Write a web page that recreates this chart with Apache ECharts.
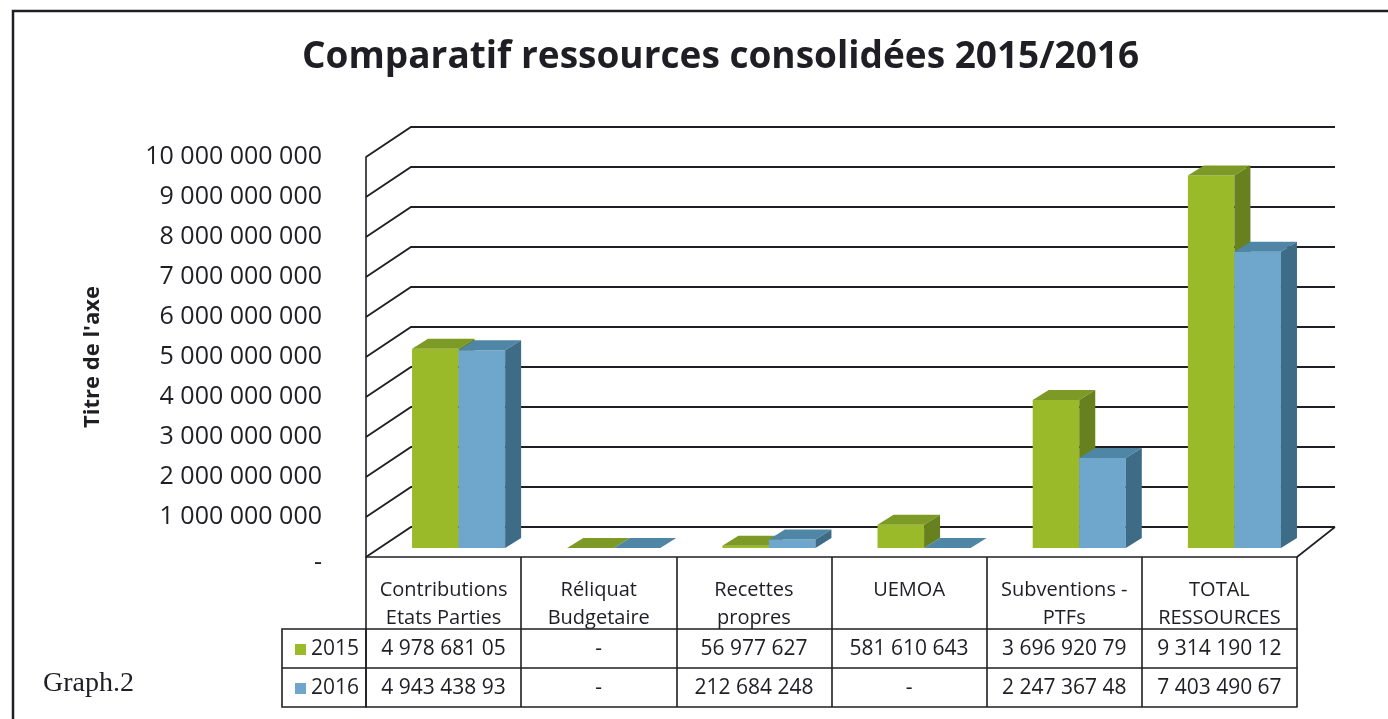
<!DOCTYPE html>
<html>
<head>
<meta charset="utf-8">
<script src="https://cdn.jsdelivr.net/npm/echarts@6/dist/echarts.min.js"></script>
<style>
  html, body { margin: 0; padding: 0; background: #fff; }
  #chart { width: 1388px; height: 719px; }
</style>
</head>
<body>
<div id="chart"></div>
<script>
// données
const categories = ['Contributions\nEtats Parties', 'Réliquat\nBudgetaire', 'Recettes\npropres', 'UEMOA\n ', 'Subventions -\nPTFs', 'TOTAL\nRESSOURCES'];
const seriesNames = ['2015', '2016'];
const values2015 = [4978681050, 0, 56977627, 581610643, 3696920790, 9314190120];
const values2016 = [4943438930, 0, 212684248, 0, 2247367480, 7403490670];
// textes du tableau tels qu'affichés (tronqués dans l'original)
const table2015 = ['4 978 681 05', '-', '56 977 627', '581 610 643', '3 696 920 79', '9 314 190 12'];
const table2016 = ['4 943 438 93', '-', '212 684 248', '-', '2 247 367 48', '7 403 490 67'];
const yTicks = [0, 1000000000, 2000000000, 3000000000, 4000000000, 5000000000, 6000000000, 7000000000, 8000000000, 9000000000, 10000000000];

const chart = echarts.init(document.getElementById('chart'));

const INK = '#1e1e24';
const FONT = 'Open Sans';
const green = { front: '#9bba2a', top: '#7c9a25', side: '#66811e' };
const blue = { front: '#6ea6cc', top: '#4f86a6', side: '#3e6b86' };

const fmt = v => v === 0 ? '{z|-}' : String(v).replace(/\B(?=(\d{3})+(?!\d))/g, ' ');

// mur du fond + plancher (perspective)
const renderWall = (params, api) => {
  const cs = params.coordSys;
  const y = api.coord([0, api.value(1)])[1];
  const children = [{
    type: 'polyline',
    shape: { points: [[cs.x, y], [cs.x + 45, y - 30], [cs.x + cs.width + 38, y - 30]] },
    style: { stroke: INK, lineWidth: 1.8, fill: null }
  }];
  if (api.value(1) === 0) {
    children.push({
      type: 'line',
      shape: { x1: cs.x + cs.width, y1: y, x2: cs.x + cs.width + 38, y2: y - 30 },
      style: { stroke: INK, lineWidth: 1.6 }
    });
  }
  return { type: 'group', children: children };
};

// barres 3D : face avant, dessus, côté
const barRenderer = (side, c) => (params, api) => {
  const idx = api.value(0);
  const top = api.coord([idx, api.value(1)]);
  const base = api.coord([idx, 0]);
  const w = api.size([1, 0])[0] * 0.3;
  const x0 = top[0] + (side === 0 ? -w : 0) + 15;
  const yTop = top[1] - 9;
  const yBase = base[1] - 9;
  const dx = 16, dy = -10;
  return {
    type: 'group',
    children: [
      { type: 'rect', shape: { x: x0, y: yTop, width: w, height: yBase - yTop }, style: { fill: c.front } },
      { type: 'polygon', shape: { points: [[x0, yTop], [x0 + dx, yTop + dy], [x0 + w + dx, yTop + dy], [x0 + w, yTop]] }, style: { fill: c.top } },
      { type: 'polygon', shape: { points: [[x0 + w, yTop], [x0 + w + dx, yTop + dy], [x0 + w + dx, yBase + dy], [x0 + w, yBase]] }, style: { fill: c.side } }
    ]
  };
};

const tableAxis = (data, offset, show) => ({
  type: 'category',
  data: data,
  position: 'bottom',
  offset: offset,
  axisLine: { show: true, lineStyle: { color: INK, width: 1.6 } },
  axisTick: { show: show, length: 39, interval: 0, lineStyle: { color: INK, width: 1.6 } },
  axisLabel: { show: show, interval: 0, margin: 9, fontFamily: FONT, fontSize: 21, lineHeight: 22, color: INK }
});

const option = {
  animation: false,
  backgroundColor: '#fff',
  title: {
    text: 'Comparatif ressources consolidées 2015/2016',
    left: 297,
    top: 34,
    textStyle: { fontFamily: FONT, fontSize: 37, fontWeight: 'bold', color: INK }
  },
  legend: {
    data: seriesNames,
    orient: 'vertical',
    left: 290,
    top: 634,
    itemWidth: 11,
    itemHeight: 11,
    itemGap: 18,
    icon: 'rect',
    selectedMode: false,
    textStyle: { fontFamily: FONT, fontSize: 21, lineHeight: 21, color: INK }
  },
  grid: { left: 366, right: 91, top: 157, bottom: 162, containLabel: false },
  xAxis: [
    {
      type: 'category',
      data: categories,
      axisLine: { show: true, lineStyle: { color: INK, width: 1.6 } },
      axisTick: { show: true, length: 72, interval: 0, lineStyle: { color: INK, width: 1.6 } },
      axisLabel: { interval: 0, margin: 19, fontFamily: FONT, fontSize: 20, lineHeight: 28, color: INK }
    },
    tableAxis(table2015, 72, true),
    tableAxis(table2016, 111, true),
    tableAxis(categories, 150, false)
  ],
  yAxis: {
    type: 'value',
    min: 0,
    max: 10000000000,
    interval: 1000000000,
    name: "Titre de l'axe",
    nameLocation: 'middle',
    nameRotate: 90,
    nameGap: 262,
    nameTextStyle: { fontFamily: FONT, fontSize: 22, fontWeight: 'bold', color: INK },
    axisLine: { show: true, lineStyle: { color: INK, width: 1.6 } },
    axisTick: { show: false },
    splitLine: { show: false },
    axisLabel: {
      margin: 44, fontFamily: FONT, fontSize: 25, color: INK, formatter: fmt,
      rich: { z: { fontFamily: FONT, fontSize: 25, color: INK, padding: [12, 0, 0, 0] } }
    }
  },
  series: [
    {
      type: 'custom',
      name: 'wall',
      silent: true,
      clip: false,
      z: 1,
      renderItem: renderWall,
      encode: { x: 0, y: 1 },
      data: yTicks.map(v => [0, v])
    },
    {
      type: 'custom',
      name: seriesNames[0],
      clip: false,
      z: 3,
      itemStyle: { color: green.front },
      renderItem: barRenderer(0, green),
      encode: { x: 0, y: 1 },
      data: values2015.map((v, i) => [i, v])
    },
    {
      type: 'custom',
      name: seriesNames[1],
      clip: false,
      z: 3,
      itemStyle: { color: blue.front },
      renderItem: barRenderer(1, blue),
      encode: { x: 0, y: 1 },
      data: values2016.map((v, i) => [i, v])
    }
  ],
  graphic: [
    { type: 'rect', z: 0, shape: { x: 13, y: 11, width: 1420, height: 780 }, style: { fill: null, stroke: INK, lineWidth: 2.5 }, silent: true },
    { type: 'rect', shape: { x: 282, y: 629, width: 84, height: 78 }, style: { fill: null, stroke: INK, lineWidth: 1.6 }, silent: true },
    { type: 'line', shape: { x1: 282, y1: 668, x2: 366, y2: 668 }, style: { stroke: INK, lineWidth: 1.6 }, silent: true },
    { type: 'text', left: 43, top: 670, style: { text: 'Graph.2', font: '28px "Liberation Serif"', fill: INK }, silent: true }
  ]
};

chart.setOption(option);
</script>
</body>
</html>
